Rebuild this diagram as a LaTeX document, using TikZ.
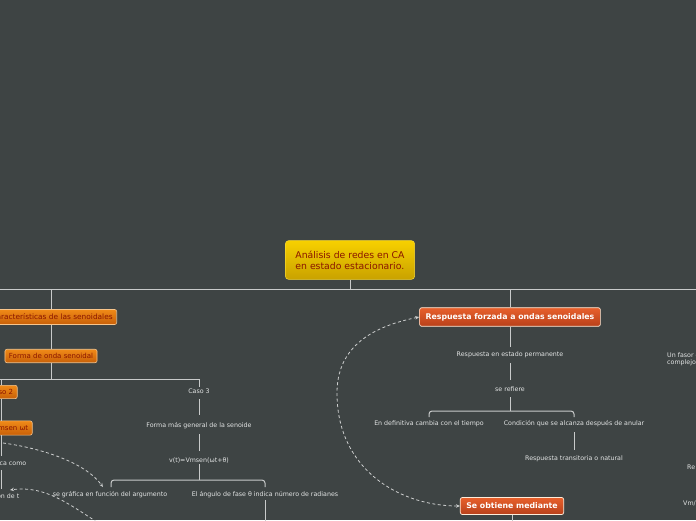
\documentclass[tikz,border=0pt]{standalone}
\usepackage{fontspec}
\setmainfont{DejaVu Sans}
\usetikzlibrary{arrows.meta}
\definecolor{bg}{HTML}{3E4444}
\definecolor{ln}{HTML}{C8CACA}
\definecolor{tx}{HTML}{E2E4E4}
\definecolor{darkred}{HTML}{8A1500}
\definecolor{rtop}{HTML}{E8602C}
\definecolor{rbot}{HTML}{B8401A}
\definecolor{otop}{HTML}{F08A18}
\definecolor{obot}{HTML}{C86008}
\definecolor{ytop}{HTML}{F7D000}
\definecolor{ybot}{HTML}{C9A200}
\begin{document}
\begin{tikzpicture}[x=1pt,y=-1pt,
  every node/.style={inner sep=1pt},
  txt/.style={font=\fontsize{6.3}{7.5}\selectfont, text=tx},
  rootbox/.style={rounded corners=3pt, draw=ytop!80!white, line width=0.5pt, top color=ytop, bottom color=ybot, text=darkred, font=\fontsize{9.3}{11}\selectfont, align=left, inner xsep=10pt, inner ysep=10pt},
  obox/.style={rounded corners=2pt, draw=otop!50!white, line width=0.6pt, top color=otop, bottom color=obot, text=darkred, font=\fontsize{7}{8}\selectfont, inner xsep=4pt, inner ysep=4pt},
  rbox/.style={rounded corners=2pt, draw=white!85!orange, line width=0.7pt, top color=rtop, bottom color=rbot, text=white, font=\bfseries\fontsize{7.8}{9}\selectfont, inner xsep=6pt, inner ysep=5.5pt},
  conn/.style={draw=ln, line width=1pt},
  dashline/.style={draw=ln!90!white, line width=0.8pt, dash pattern=on 3pt off 2.5pt},
  tipend/.style={-{Stealth[length=4pt,width=3.5pt,open]}},
]
\fill[bg] (0,0) rectangle (696,520);
\useasboundingbox (0,0) rectangle (696,520);

% root
\node[rootbox] (root) at (350,260) {Análisis de redes en CA\\en estado estacionario.};
\coordinate (bl) at (0,289);
\coordinate (br) at (696,289);
\coordinate (bmid) at (350,289);
\draw[conn] (bl) -- (br);
\draw[conn] (root.south) -- (bmid);

% left branch
\node[obox, anchor=east, font=\fontsize{7.4}{8}\selectfont, inner ysep=4.5pt] (car) at (117,317) {Características de las senoidales};
\coordinate (bcar) at (51,289);
\draw[conn] (bcar) -- (bcar |- car.north);
\node[obox] (forma) at (51,356) {Forma de onda senoidal};
\draw[conn] (bcar |- car.south) -- (forma.north);
\coordinate (bf) at (51,379);
\coordinate (bfl) at (0,379);
\coordinate (bfr) at (199,379);
\draw[conn] (forma.south) -- (bf);
\draw[conn] (bfl) -- (bfr);

\node[obox, anchor=east] (caso2) at (17.5,392) {Caso 2};
\coordinate (c2t) at (1.5,379);
\draw[conn] (c2t) -- (c2t |- caso2.north);
\node[obox, anchor=east] (vms) at (32.5,428) {v(t)=Vmsen ωt};
\draw[conn] (c2t |- caso2.south) -- (c2t |- vms.north);
\node[txt, anchor=east] (gcomo) at (27.5,464) {Se grafica como};
\draw[conn] (c2t |- vms.south) -- (1.5,456);
\node[txt, anchor=east] (fdt) at (20.5,496) {En función de t};
\draw[conn] (1.5,470) -- (1.5,489);

% caso 3 column
\node[txt] (caso3) at (199,391) {Caso 3};
\draw[conn] (bfr) -- (caso3.north);
\node[txt] (fmg) at (199,426) {Forma más general de la senoide};
\draw[conn] (199,399) -- (199,415);
\node[txt] (vt) at (199,460) {v(t)=Vmsen(ωt+θ)};
\draw[conn] (199,434) -- (199,451);
\coordinate (vtb) at (199,480);
\draw[conn] (vt.south) -- (vtb);
\node[txt] (sgf) at (110,495) {se gráfica en función del argumento};
\node[txt] (ang) at (265,495) {El ángulo de fase θ indica número de radianes};
\draw[conn, rounded corners=3pt] (111,487) -- (111,480) -- (265,480) -- (265,487);
\coordinate (angb) at (265,521);
\draw[conn] (ang.south) ++(0,1) -- (angb);

% dashed connectors left
\coordinate (d1s) at (3,443);
\coordinate (a1) at (103,487);
\coordinate (d2s) at (97,522);
\coordinate (a2) at (10,490);
\draw[dashline, tipend] (d1s) .. controls (40,448) and (85,462) .. (a1);
\draw[dashline, tipend] (d2s) .. controls (70,505) and (45,485) .. (a2);

% right branch
\node[rbox] (resp) at (510,317) {Respuesta forzada a ondas senoidales};
\coordinate (bresp) at (510,289);
\draw[conn] (bresp) -- (resp.north);
\node[txt] (rep) at (510,355) {Respuesta en estado permanente};
\draw[conn] (resp.south) -- (510,347);
\node[txt] (ser) at (510,389) {se refiere};
\draw[conn] (510,363) -- (510,380);
\draw[conn] (510,397) -- (510,411);
\draw[conn, rounded corners=3pt] (429,417) -- (429,411) -- (574,411) -- (574,417);
\node[txt] (edc) at (429,424) {En definitiva cambia con el tiempo};
\node[txt] (cqs) at (574,424) {Condición que se alcanza después de anular};
\node[txt] (rtn) at (574,459) {Respuesta transitoria o natural};
\draw[conn] (574,432) -- (574,450);

\node[rbox] (sob) at (512,506) {Se obtiene mediante};
\coordinate (sobb) at (512,521);
\draw[conn] (sob.south) -- (sobb);

\draw[dashline, {Stealth[length=4pt,width=3.5pt,open]}-{Stealth[length=4pt,width=3.5pt,open]}]
  (resp.west) .. controls (375,326) and (336,345) .. (337,395)
  .. controls (338,470) and (400,506) .. (sob.west);

% far right partial texts
\node[txt, anchor=west, align=left] (fasor) at (666,359) {Un fasor es un número\\complejo};
\node[txt, anchor=west] (re) at (686,467) {Re};
\node[txt, anchor=west] (vm) at (682,503) {Vm/θ};
\end{tikzpicture}
\end{document}
